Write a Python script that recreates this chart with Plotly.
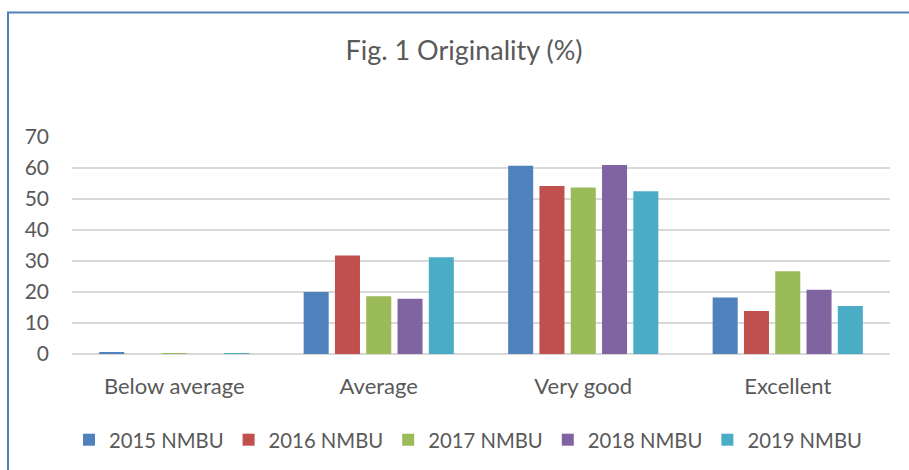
import plotly.graph_objects as go

categories = ["Below average", "Average", "Very good", "Excellent"]
series_names = ["2015 NMBU", "2016 NMBU", "2017 NMBU", "2018 NMBU", "2019 NMBU"]
v2015 = [0.6, 20.0, 60.7, 18.2]
v2016 = [0.0, 31.8, 54.2, 13.9]
v2017 = [0.3, 18.6, 53.7, 26.7]
v2018 = [0.0, 17.8, 61.0, 20.7]
v2019 = [0.3, 31.2, 52.5, 15.5]
series_values = [v2015, v2016, v2017, v2018, v2019]
colors = ["#4F81BD", "#C0504D", "#9BBB59", "#8064A2", "#4BACC6"]
y_ticks = [0, 10, 20, 30, 40, 50, 60, 70]

FONT = "Lato"
TXT = "#595959"

fig = go.Figure()
for name, vals, col in zip(series_names, series_values, colors):
    fig.add_trace(go.Bar(
        x=categories, y=vals, name=name,
        marker=dict(color=col, line=dict(width=0)),
    ))

W, H = 909, 470
L, R, T, B = 72, 19, 137, 115
pw, ph = W - L - R, H - T - B

fig.update_layout(
    width=W, height=H,
    margin=dict(l=L, r=R, t=T, b=B, pad=0),
    paper_bgcolor="white", plot_bgcolor="white",
    barmode="group", bargap=0.235, bargroupgap=0.2,
    font=dict(family=FONT, size=21, color=TXT),
    title=dict(text="Fig. 1 Originality (%)", x=464 / W, xanchor="center",
               y=1 - 51 / H, yanchor="middle",
               font=dict(family=FONT, size=27, color=TXT)),
    showlegend=True,
    legend=dict(orientation="h", x=(468 - L) / pw, xanchor="center",
                y=(ph - (440 - T)) / ph, yanchor="middle",
                font=dict(family=FONT, size=20.3, color=TXT),
                itemwidth=30, traceorder="normal"),
    xaxis=dict(showgrid=False, showline=False, ticks="",
               ticklabelstandoff=17, tickfont=dict(size=22, color=TXT)),
    yaxis=dict(range=[0, 70], tickvals=y_ticks, showgrid=True,
               gridcolor="#D9D9D9", gridwidth=1.5, zeroline=True,
               zerolinecolor="#D9D9D9", zerolinewidth=1.5, showline=False,
               ticks="", ticklabelstandoff=22,
               tickfont=dict(size=21, color=TXT)),
    shapes=[dict(type="rect", xref="paper", yref="paper",
                 x0=(8 - L) / pw, x1=(W + 20 - L) / pw,
                 y0=-(H + 20 - (T + ph)) / ph, y1=(T + ph - 12) / ph,
                 line=dict(color="#4F81BD", width=2), fillcolor="rgba(0,0,0,0)",
                 layer="below")],
)

fig.write_html("out.html", config={"displayModeBar": False},
               post_script="document.body.style.margin='0';")
